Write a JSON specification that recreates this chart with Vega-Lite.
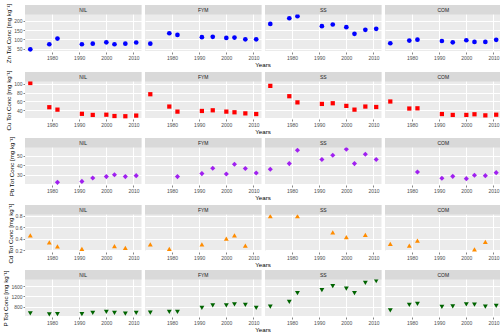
{
  "$schema": "https://vega.github.io/schema/vega-lite/v6.json",
  "background": "white",
  "padding": {"left": 2, "top": 3, "right": 3, "bottom": 1},
  "spacing": 0,
  "datasets": {
    "all": [
      {"Element":"Zn","Treatment":"NIL","Year":1972,"Conc":48},
      {"Element":"Zn","Treatment":"NIL","Year":1979,"Conc":75},
      {"Element":"Zn","Treatment":"NIL","Year":1982,"Conc":105},
      {"Element":"Zn","Treatment":"NIL","Year":1991,"Conc":75},
      {"Element":"Zn","Treatment":"NIL","Year":1995,"Conc":78},
      {"Element":"Zn","Treatment":"NIL","Year":2000,"Conc":85},
      {"Element":"Zn","Treatment":"NIL","Year":2003,"Conc":75},
      {"Element":"Zn","Treatment":"NIL","Year":2007,"Conc":78},
      {"Element":"Zn","Treatment":"NIL","Year":2011,"Conc":84},
      {"Element":"Zn","Treatment":"FYM","Year":1972,"Conc":78},
      {"Element":"Zn","Treatment":"FYM","Year":1979,"Conc":133},
      {"Element":"Zn","Treatment":"FYM","Year":1982,"Conc":124},
      {"Element":"Zn","Treatment":"FYM","Year":1991,"Conc":112},
      {"Element":"Zn","Treatment":"FYM","Year":1995,"Conc":114},
      {"Element":"Zn","Treatment":"FYM","Year":2000,"Conc":108},
      {"Element":"Zn","Treatment":"FYM","Year":2003,"Conc":110},
      {"Element":"Zn","Treatment":"FYM","Year":2007,"Conc":101},
      {"Element":"Zn","Treatment":"FYM","Year":2011,"Conc":101},
      {"Element":"Zn","Treatment":"SS","Year":1972,"Conc":182},
      {"Element":"Zn","Treatment":"SS","Year":1979,"Conc":212},
      {"Element":"Zn","Treatment":"SS","Year":1982,"Conc":223},
      {"Element":"Zn","Treatment":"SS","Year":1991,"Conc":170},
      {"Element":"Zn","Treatment":"SS","Year":1995,"Conc":179},
      {"Element":"Zn","Treatment":"SS","Year":2000,"Conc":165},
      {"Element":"Zn","Treatment":"SS","Year":2003,"Conc":130},
      {"Element":"Zn","Treatment":"SS","Year":2007,"Conc":151},
      {"Element":"Zn","Treatment":"SS","Year":2011,"Conc":156},
      {"Element":"Zn","Treatment":"COM","Year":1972,"Conc":80},
      {"Element":"Zn","Treatment":"COM","Year":1979,"Conc":94},
      {"Element":"Zn","Treatment":"COM","Year":1982,"Conc":99},
      {"Element":"Zn","Treatment":"COM","Year":1991,"Conc":92},
      {"Element":"Zn","Treatment":"COM","Year":1995,"Conc":85},
      {"Element":"Zn","Treatment":"COM","Year":2000,"Conc":96},
      {"Element":"Zn","Treatment":"COM","Year":2003,"Conc":87},
      {"Element":"Zn","Treatment":"COM","Year":2007,"Conc":87},
      {"Element":"Zn","Treatment":"COM","Year":2011,"Conc":98},

      {"Element":"Cu","Treatment":"NIL","Year":1972,"Conc":102},
      {"Element":"Cu","Treatment":"NIL","Year":1979,"Conc":47},
      {"Element":"Cu","Treatment":"NIL","Year":1982,"Conc":41.5},
      {"Element":"Cu","Treatment":"NIL","Year":1991,"Conc":32},
      {"Element":"Cu","Treatment":"NIL","Year":1995,"Conc":29.5},
      {"Element":"Cu","Treatment":"NIL","Year":2000,"Conc":30},
      {"Element":"Cu","Treatment":"NIL","Year":2003,"Conc":27},
      {"Element":"Cu","Treatment":"NIL","Year":2007,"Conc":26.5},
      {"Element":"Cu","Treatment":"NIL","Year":2011,"Conc":28},
      {"Element":"Cu","Treatment":"FYM","Year":1972,"Conc":76.5},
      {"Element":"Cu","Treatment":"FYM","Year":1979,"Conc":48.5},
      {"Element":"Cu","Treatment":"FYM","Year":1982,"Conc":37},
      {"Element":"Cu","Treatment":"FYM","Year":1991,"Conc":38.5},
      {"Element":"Cu","Treatment":"FYM","Year":1995,"Conc":40},
      {"Element":"Cu","Treatment":"FYM","Year":2000,"Conc":37},
      {"Element":"Cu","Treatment":"FYM","Year":2003,"Conc":35.5},
      {"Element":"Cu","Treatment":"FYM","Year":2007,"Conc":33},
      {"Element":"Cu","Treatment":"FYM","Year":2011,"Conc":31.5},
      {"Element":"Cu","Treatment":"SS","Year":1972,"Conc":95.5},
      {"Element":"Cu","Treatment":"SS","Year":1979,"Conc":72},
      {"Element":"Cu","Treatment":"SS","Year":1982,"Conc":58},
      {"Element":"Cu","Treatment":"SS","Year":1991,"Conc":54.5},
      {"Element":"Cu","Treatment":"SS","Year":1995,"Conc":56},
      {"Element":"Cu","Treatment":"SS","Year":2000,"Conc":50},
      {"Element":"Cu","Treatment":"SS","Year":2003,"Conc":41.5},
      {"Element":"Cu","Treatment":"SS","Year":2007,"Conc":48.5},
      {"Element":"Cu","Treatment":"SS","Year":2011,"Conc":47.5},
      {"Element":"Cu","Treatment":"COM","Year":1972,"Conc":60},
      {"Element":"Cu","Treatment":"COM","Year":1979,"Conc":44},
      {"Element":"Cu","Treatment":"COM","Year":1982,"Conc":44.5},
      {"Element":"Cu","Treatment":"COM","Year":1991,"Conc":31.5},
      {"Element":"Cu","Treatment":"COM","Year":1995,"Conc":29.5},
      {"Element":"Cu","Treatment":"COM","Year":2000,"Conc":29.5},
      {"Element":"Cu","Treatment":"COM","Year":2003,"Conc":31},
      {"Element":"Cu","Treatment":"COM","Year":2007,"Conc":28.5},
      {"Element":"Cu","Treatment":"COM","Year":2011,"Conc":30},

      {"Element":"Pb","Treatment":"NIL","Year":1982,"Conc":22.4},
      {"Element":"Pb","Treatment":"NIL","Year":1991,"Conc":23.4},
      {"Element":"Pb","Treatment":"NIL","Year":1995,"Conc":26.9},
      {"Element":"Pb","Treatment":"NIL","Year":2000,"Conc":28.3},
      {"Element":"Pb","Treatment":"NIL","Year":2003,"Conc":30.3},
      {"Element":"Pb","Treatment":"NIL","Year":2007,"Conc":28.3},
      {"Element":"Pb","Treatment":"NIL","Year":2011,"Conc":29.3},
      {"Element":"Pb","Treatment":"FYM","Year":1982,"Conc":28.3},
      {"Element":"Pb","Treatment":"FYM","Year":1991,"Conc":31.4},
      {"Element":"Pb","Treatment":"FYM","Year":1995,"Conc":36.9},
      {"Element":"Pb","Treatment":"FYM","Year":2000,"Conc":31},
      {"Element":"Pb","Treatment":"FYM","Year":2003,"Conc":41},
      {"Element":"Pb","Treatment":"FYM","Year":2007,"Conc":36.6},
      {"Element":"Pb","Treatment":"FYM","Year":2011,"Conc":32.1},
      {"Element":"Pb","Treatment":"SS","Year":1972,"Conc":35.9},
      {"Element":"Pb","Treatment":"SS","Year":1979,"Conc":41.7},
      {"Element":"Pb","Treatment":"SS","Year":1982,"Conc":55.5},
      {"Element":"Pb","Treatment":"SS","Year":1991,"Conc":45.9},
      {"Element":"Pb","Treatment":"SS","Year":1995,"Conc":50.3},
      {"Element":"Pb","Treatment":"SS","Year":2000,"Conc":56.6},
      {"Element":"Pb","Treatment":"SS","Year":2003,"Conc":41.7},
      {"Element":"Pb","Treatment":"SS","Year":2007,"Conc":51.4},
      {"Element":"Pb","Treatment":"SS","Year":2011,"Conc":45.9},
      {"Element":"Pb","Treatment":"COM","Year":1982,"Conc":33.1},
      {"Element":"Pb","Treatment":"COM","Year":1991,"Conc":26.6},
      {"Element":"Pb","Treatment":"COM","Year":1995,"Conc":28.6},
      {"Element":"Pb","Treatment":"COM","Year":2000,"Conc":26.2},
      {"Element":"Pb","Treatment":"COM","Year":2003,"Conc":29.7},
      {"Element":"Pb","Treatment":"COM","Year":2007,"Conc":29.3},
      {"Element":"Pb","Treatment":"COM","Year":2011,"Conc":32.4},

      {"Element":"Cd","Treatment":"NIL","Year":1972,"Conc":0.46},
      {"Element":"Cd","Treatment":"NIL","Year":1979,"Conc":0.34},
      {"Element":"Cd","Treatment":"NIL","Year":1982,"Conc":0.27},
      {"Element":"Cd","Treatment":"NIL","Year":1991,"Conc":0.225},
      {"Element":"Cd","Treatment":"NIL","Year":2003,"Conc":0.275},
      {"Element":"Cd","Treatment":"NIL","Year":2007,"Conc":0.245},
      {"Element":"Cd","Treatment":"FYM","Year":1972,"Conc":0.306},
      {"Element":"Cd","Treatment":"FYM","Year":1979,"Conc":0.224},
      {"Element":"Cd","Treatment":"FYM","Year":1991,"Conc":0.306},
      {"Element":"Cd","Treatment":"FYM","Year":2000,"Conc":0.406},
      {"Element":"Cd","Treatment":"FYM","Year":2003,"Conc":0.459},
      {"Element":"Cd","Treatment":"FYM","Year":2007,"Conc":0.282},
      {"Element":"Cd","Treatment":"SS","Year":1972,"Conc":0.794},
      {"Element":"Cd","Treatment":"SS","Year":1982,"Conc":0.794},
      {"Element":"Cd","Treatment":"SS","Year":1995,"Conc":0.512},
      {"Element":"Cd","Treatment":"SS","Year":2000,"Conc":0.429},
      {"Element":"Cd","Treatment":"SS","Year":2007,"Conc":0.471},
      {"Element":"Cd","Treatment":"COM","Year":1972,"Conc":0.312},
      {"Element":"Cd","Treatment":"COM","Year":1979,"Conc":0.282},
      {"Element":"Cd","Treatment":"COM","Year":1982,"Conc":0.371},
      {"Element":"Cd","Treatment":"COM","Year":2003,"Conc":0.218},
      {"Element":"Cd","Treatment":"COM","Year":2007,"Conc":0.347},

      {"Element":"P","Treatment":"NIL","Year":1972,"Conc":538},
      {"Element":"P","Treatment":"NIL","Year":1979,"Conc":498},
      {"Element":"P","Treatment":"NIL","Year":1982,"Conc":511},
      {"Element":"P","Treatment":"NIL","Year":1991,"Conc":511},
      {"Element":"P","Treatment":"NIL","Year":1995,"Conc":551},
      {"Element":"P","Treatment":"NIL","Year":2000,"Conc":590},
      {"Element":"P","Treatment":"NIL","Year":2003,"Conc":551},
      {"Element":"P","Treatment":"NIL","Year":2007,"Conc":525},
      {"Element":"P","Treatment":"NIL","Year":2011,"Conc":551},
      {"Element":"P","Treatment":"FYM","Year":1972,"Conc":564},
      {"Element":"P","Treatment":"FYM","Year":1979,"Conc":590},
      {"Element":"P","Treatment":"FYM","Year":1982,"Conc":590},
      {"Element":"P","Treatment":"FYM","Year":1991,"Conc":748},
      {"Element":"P","Treatment":"FYM","Year":1995,"Conc":852},
      {"Element":"P","Treatment":"FYM","Year":2000,"Conc":852},
      {"Element":"P","Treatment":"FYM","Year":2003,"Conc":892},
      {"Element":"P","Treatment":"FYM","Year":2007,"Conc":866},
      {"Element":"P","Treatment":"FYM","Year":2011,"Conc":748},
      {"Element":"P","Treatment":"SS","Year":1972,"Conc":800},
      {"Element":"P","Treatment":"SS","Year":1979,"Conc":984},
      {"Element":"P","Treatment":"SS","Year":1982,"Conc":1325},
      {"Element":"P","Treatment":"SS","Year":1991,"Conc":1443},
      {"Element":"P","Treatment":"SS","Year":1995,"Conc":1600},
      {"Element":"P","Treatment":"SS","Year":2000,"Conc":1508},
      {"Element":"P","Treatment":"SS","Year":2003,"Conc":1325},
      {"Element":"P","Treatment":"SS","Year":2007,"Conc":1731},
      {"Element":"P","Treatment":"SS","Year":2011,"Conc":1797},
      {"Element":"P","Treatment":"COM","Year":1972,"Conc":656},
      {"Element":"P","Treatment":"COM","Year":1979,"Conc":866},
      {"Element":"P","Treatment":"COM","Year":1982,"Conc":905},
      {"Element":"P","Treatment":"COM","Year":1991,"Conc":787},
      {"Element":"P","Treatment":"COM","Year":1995,"Conc":813},
      {"Element":"P","Treatment":"COM","Year":2000,"Conc":892},
      {"Element":"P","Treatment":"COM","Year":2003,"Conc":879},
      {"Element":"P","Treatment":"COM","Year":2007,"Conc":800},
      {"Element":"P","Treatment":"COM","Year":2011,"Conc":826}
    ]
  },
  "vconcat": [
    {
      "data": {"name": "all"},
      "transform": [{"filter": "datum.Element === 'Zn'"}],
      "facet": {"column": {"field": "Treatment", "type": "nominal", "title": "Years", "sort": ["NIL","FYM","SS","COM"], "header": {"labels": false, "titleOrient": "bottom"}}},
      "spacing": 3,
      "spec": {
        "width": 116.5, "height": 46,
        "layer": [
          {
            "mark": {"type": "point", "filled": true, "shape": "circle", "size": 22, "color": "#0000ff", "opacity": 1},
            "encoding": {
              "x": {"field": "Year", "type": "quantitative", "title": null, "scale": {"domain": [1970.05, 2012.95], "nice": false, "zero": false},
                "axis": {"values": [1980,1990,2000,2010], "format": "d", "gridWidth": 1}},
              "y": {"field": "Conc", "type": "quantitative", "title": "Zn Tot Conc [mg kg⁻¹]", "scale": {"domain": [39.25, 281.85], "nice": false, "zero": false},
                "axis": {"values": [50,100,150,200], "format": "d", "gridWidth": 1, "titleY": 28}}
            }
          },
          {
            "transform": [{"aggregate": [{"op": "count", "as": "n"}], "groupby": ["Treatment"]}],
            "mark": {"type": "rect", "color": "#d9d9d9"},
            "encoding": {
              "x": {"datum": 1970.05, "type": "quantitative", "title": null, "axis": {"values": [1975,1985,1995,2005], "labels": false, "ticks": false, "gridWidth": 0.5, "minExtent": 0, "maxExtent": 0}}, "x2": {"datum": 2012.95},
              "y": {"datum": 231.75, "type": "quantitative", "title": null, "axis": {"values": [75,125,175,225], "labels": false, "ticks": false, "gridWidth": 0.5, "minExtent": 0, "maxExtent": 0}}, "y2": {"datum": 281.85}
            }
          },
          {
            "transform": [{"aggregate": [{"op": "count", "as": "n"}], "groupby": ["Treatment"]}],
            "mark": {"type": "text", "fontSize": 5, "color": "#1a1a1a", "font": "Liberation Sans", "baseline": "middle"},
            "encoding": {
              "x": {"datum": 1991.5, "type": "quantitative", "axis": null},
              "y": {"datum": 256.8, "type": "quantitative", "axis": null},
              "text": {"field": "Treatment"}
            }
          }
        ],
        "resolve": {"axis": {"x": "independent", "y": "independent"}}
      }
    },
    {
      "data": {"name": "all"},
      "transform": [{"filter": "datum.Element === 'Cu'"}],
      "facet": {"column": {"field": "Treatment", "type": "nominal", "title": "Years", "sort": ["NIL","FYM","SS","COM"], "header": {"labels": false, "titleOrient": "bottom"}}},
      "spacing": 3,
      "spec": {
        "width": 116.5, "height": 46,
        "layer": [
          {
            "mark": {"type": "point", "filled": true, "shape": "square", "size": 18, "color": "#ff0000", "opacity": 1},
            "encoding": {
              "x": {"field": "Year", "type": "quantitative", "title": null, "scale": {"domain": [1970.05, 2012.95], "nice": false, "zero": false},
                "axis": {"values": [1980,1990,2000,2010], "format": "d", "gridWidth": 1}},
              "y": {"field": "Conc", "type": "quantitative", "title": "Cu Tot Conc [mg kg⁻¹]", "scale": {"domain": [22.5, 127.0], "nice": false, "zero": false},
                "axis": {"values": [40,60,80,100], "format": "d", "gridWidth": 1, "titleY": 28}}
            }
          },
          {
            "transform": [{"aggregate": [{"op": "count", "as": "n"}], "groupby": ["Treatment"]}],
            "mark": {"type": "rect", "color": "#d9d9d9"},
            "encoding": {
              "x": {"datum": 1970.05, "type": "quantitative", "title": null, "axis": {"values": [1975,1985,1995,2005], "labels": false, "ticks": false, "gridWidth": 0.5, "minExtent": 0, "maxExtent": 0}}, "x2": {"datum": 2012.95},
              "y": {"datum": 105.4, "type": "quantitative", "title": null, "axis": {"values": [30,50,70,90], "labels": false, "ticks": false, "gridWidth": 0.5, "minExtent": 0, "maxExtent": 0}}, "y2": {"datum": 127.0}
            }
          },
          {
            "transform": [{"aggregate": [{"op": "count", "as": "n"}], "groupby": ["Treatment"]}],
            "mark": {"type": "text", "fontSize": 5, "color": "#1a1a1a", "font": "Liberation Sans", "baseline": "middle"},
            "encoding": {
              "x": {"datum": 1991.5, "type": "quantitative", "axis": null},
              "y": {"datum": 116.2, "type": "quantitative", "axis": null},
              "text": {"field": "Treatment"}
            }
          }
        ],
        "resolve": {"axis": {"x": "independent", "y": "independent"}}
      }
    },
    {
      "data": {"name": "all"},
      "transform": [{"filter": "datum.Element === 'Pb'"}],
      "facet": {"column": {"field": "Treatment", "type": "nominal", "title": "Years", "sort": ["NIL","FYM","SS","COM"], "header": {"labels": false, "titleOrient": "bottom"}}},
      "spacing": 3,
      "spec": {
        "width": 116.5, "height": 46,
        "layer": [
          {
            "mark": {"type": "point", "filled": true, "shape": "diamond", "size": 26, "color": "#a020f0", "opacity": 1},
            "encoding": {
              "x": {"field": "Year", "type": "quantitative", "title": null, "scale": {"domain": [1970.05, 2012.95], "nice": false, "zero": false},
                "axis": {"values": [1980,1990,2000,2010], "format": "d", "gridWidth": 1}},
              "y": {"field": "Conc", "type": "quantitative", "title": "Pb Tot Conc [mg kg⁻¹]", "scale": {"domain": [20.7, 68.1], "nice": false, "zero": false},
                "axis": {"values": [30,40,50], "format": "d", "gridWidth": 1, "titleY": 28}}
            }
          },
          {
            "transform": [{"aggregate": [{"op": "count", "as": "n"}], "groupby": ["Treatment"]}],
            "mark": {"type": "rect", "color": "#d9d9d9"},
            "encoding": {
              "x": {"datum": 1970.05, "type": "quantitative", "title": null, "axis": {"values": [1975,1985,1995,2005], "labels": false, "ticks": false, "gridWidth": 0.5, "minExtent": 0, "maxExtent": 0}}, "x2": {"datum": 2012.95},
              "y": {"datum": 58.3, "type": "quantitative", "title": null, "axis": {"values": [25,35,45,55], "labels": false, "ticks": false, "gridWidth": 0.5, "minExtent": 0, "maxExtent": 0}}, "y2": {"datum": 68.1}
            }
          },
          {
            "transform": [{"aggregate": [{"op": "count", "as": "n"}], "groupby": ["Treatment"]}],
            "mark": {"type": "text", "fontSize": 5, "color": "#1a1a1a", "font": "Liberation Sans", "baseline": "middle"},
            "encoding": {
              "x": {"datum": 1991.5, "type": "quantitative", "axis": null},
              "y": {"datum": 63.2, "type": "quantitative", "axis": null},
              "text": {"field": "Treatment"}
            }
          }
        ],
        "resolve": {"axis": {"x": "independent", "y": "independent"}}
      }
    },
    {
      "data": {"name": "all"},
      "transform": [{"filter": "datum.Element === 'Cd'"}],
      "facet": {"column": {"field": "Treatment", "type": "nominal", "title": "Years", "sort": ["NIL","FYM","SS","COM"], "header": {"labels": false, "titleOrient": "bottom"}}},
      "spacing": 3,
      "spec": {
        "width": 116.5, "height": 46,
        "layer": [
          {
            "mark": {"type": "point", "filled": true, "shape": "triangle-up", "size": 24, "color": "#ff8c00", "opacity": 1},
            "encoding": {
              "x": {"field": "Year", "type": "quantitative", "title": null, "scale": {"domain": [1970.05, 2012.95], "nice": false, "zero": false},
                "axis": {"values": [1980,1990,2000,2010], "format": "d", "gridWidth": 1}},
              "y": {"field": "Conc", "type": "quantitative", "title": "Cd Tot Conc [mg kg⁻¹]", "scale": {"domain": [0.189, 0.988], "nice": false, "zero": false},
                "axis": {"values": [0.2,0.4,0.6,0.8], "format": ".1f", "gridWidth": 1, "titleY": 28}}
            }
          },
          {
            "transform": [{"aggregate": [{"op": "count", "as": "n"}], "groupby": ["Treatment"]}],
            "mark": {"type": "rect", "color": "#d9d9d9"},
            "encoding": {
              "x": {"datum": 1970.05, "type": "quantitative", "title": null, "axis": {"values": [1975,1985,1995,2005], "labels": false, "ticks": false, "gridWidth": 0.5, "minExtent": 0, "maxExtent": 0}}, "x2": {"datum": 2012.95},
              "y": {"datum": 0.823, "type": "quantitative", "title": null, "axis": {"values": [0.3,0.5,0.7], "labels": false, "ticks": false, "gridWidth": 0.5, "minExtent": 0, "maxExtent": 0}}, "y2": {"datum": 0.988}
            }
          },
          {
            "transform": [{"aggregate": [{"op": "count", "as": "n"}], "groupby": ["Treatment"]}],
            "mark": {"type": "text", "fontSize": 5, "color": "#1a1a1a", "font": "Liberation Sans", "baseline": "middle"},
            "encoding": {
              "x": {"datum": 1991.5, "type": "quantitative", "axis": null},
              "y": {"datum": 0.9055, "type": "quantitative", "axis": null},
              "text": {"field": "Treatment"}
            }
          }
        ],
        "resolve": {"axis": {"x": "independent", "y": "independent"}}
      }
    },
    {
      "data": {"name": "all"},
      "transform": [{"filter": "datum.Element === 'P'"}],
      "facet": {"column": {"field": "Treatment", "type": "nominal", "title": "Years", "sort": ["NIL","FYM","SS","COM"], "header": {"labels": false, "titleOrient": "bottom"}}},
      "spacing": 3,
      "spec": {
        "width": 116.5, "height": 46,
        "layer": [
          {
            "mark": {"type": "point", "filled": true, "shape": "triangle-down", "size": 24, "color": "#006400", "opacity": 1},
            "encoding": {
              "x": {"field": "Year", "type": "quantitative", "title": null, "scale": {"domain": [1970.05, 2012.95], "nice": false, "zero": false},
                "axis": {"values": [1980,1990,2000,2010], "format": "d", "gridWidth": 1}},
              "y": {"field": "Conc", "type": "quantitative", "title": "P Tot Conc [mg kg⁻¹]", "scale": {"domain": [433, 2234], "nice": false, "zero": false},
                "axis": {"values": [800,1200,1600], "format": "d", "gridWidth": 1, "titleY": 28}}
            }
          },
          {
            "transform": [{"aggregate": [{"op": "count", "as": "n"}], "groupby": ["Treatment"]}],
            "mark": {"type": "rect", "color": "#d9d9d9"},
            "encoding": {
              "x": {"datum": 1970.05, "type": "quantitative", "title": null, "axis": {"values": [1975,1985,1995,2005], "labels": false, "ticks": false, "gridWidth": 0.5, "minExtent": 0, "maxExtent": 0}}, "x2": {"datum": 2012.95},
              "y": {"datum": 1862, "type": "quantitative", "title": null, "axis": {"values": [600,1000,1400,1800], "labels": false, "ticks": false, "gridWidth": 0.5, "minExtent": 0, "maxExtent": 0}}, "y2": {"datum": 2234}
            }
          },
          {
            "transform": [{"aggregate": [{"op": "count", "as": "n"}], "groupby": ["Treatment"]}],
            "mark": {"type": "text", "fontSize": 5, "color": "#1a1a1a", "font": "Liberation Sans", "baseline": "middle"},
            "encoding": {
              "x": {"datum": 1991.5, "type": "quantitative", "axis": null},
              "y": {"datum": 2048, "type": "quantitative", "axis": null},
              "text": {"field": "Treatment"}
            }
          }
        ],
        "resolve": {"axis": {"x": "independent", "y": "independent"}}
      }
    }
  ],
  "config": {
    "view": {"fill": "#ebebeb", "stroke": null},
    "font": "Liberation Sans",
    "header": {"titleFont": "Liberation Sans", "titleFontSize": 6.2, "titleFontWeight": "normal", "titleColor": "#000000", "titlePadding": -8, "labelPadding": 0},
    "axis": {
      "domain": false,
      "grid": true,
      "minExtent": 0,
      "gridColor": "#ffffff",
      "labelFont": "Liberation Sans",
      "labelFontSize": 5,
      "labelColor": "#4d4d4d",
      "labelOverlap": false,
      "labelFlush": false,
      "tickColor": "#333333",
      "tickSize": 2,
      "tickWidth": 0.6,
      "labelPadding": 1,
      "titleFont": "Liberation Sans",
      "titleFontSize": 6.2,
      "titleFontWeight": "normal",
      "titleColor": "#000000",
      "titlePadding": 2
    },
    "axisX": {"minExtent": 0},
    "axisY": {"labelBaseline": "middle", "minExtent": 0}
  }
}
